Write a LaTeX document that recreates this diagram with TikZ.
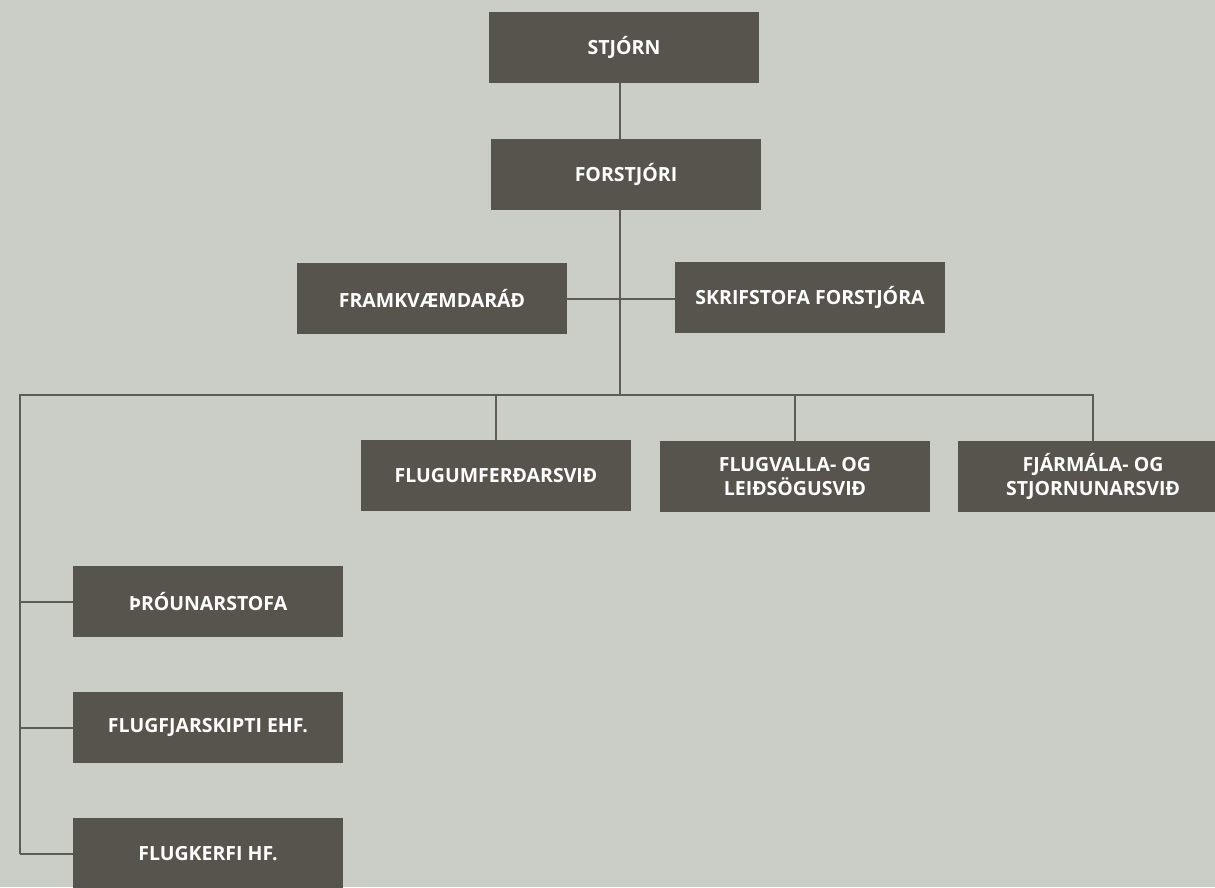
\documentclass[tikz,border=0pt]{standalone}
\usepackage{fontspec}
\setmainfont{Open Sans}
\usepackage{tikz}
\usetikzlibrary{positioning}
\definecolor{bgcol}{HTML}{CBCEC6}
\definecolor{boxcol}{HTML}{57544D}
\definecolor{linecol}{HTML}{5E5B54}
\tikzset{
    orgbox/.style = {
        align=center,
        text centered,
        font=\bfseries\fontsize{19.5}{24}\selectfont,
        text=white,
        rectangle,
        fill=boxcol,
        minimum width=270pt,
        minimum height=71pt,
        inner sep=0pt,
        outer sep=0pt
    },
    orgline/.style = {
        draw=linecol,
        line width=2pt
    }
}
\begin{document}
\begin{tikzpicture}[x=1pt,y=-1pt]
    \fill[bgcol] (0,0) rectangle (1215,887);
    \useasboundingbox (0,0) rectangle (1215,887);
    \begin{scope}
        \clip (0,0) rectangle (1215,887);
        % top of the chart
        \node [orgbox] (stjorn) at (624,47.5) {STJÓRN};
        \node [orgbox] (forstjori) at (626,174.5) {FORSTJÓRI};
        \node [orgbox] (framkv) at (432,298.5) {FRAMKVÆMDARÁÐ};
        \node [orgbox] (skrifst) at (810,297.5) {SKRIFSTOFA FORSTJÓRA};
        % divisions
        \node [orgbox] (flugumf) at (496,475.5) {FLUGUMFERÐARSVIÐ};
        \node [orgbox] (flugvalla) at (795,476.5) {FLUGVALLA- OG\\LEIÐSÖGUSVIÐ};
        \node [orgbox] (fjarmala) at (1093,476.5) {FJÁRMÁLA- OG\\STJORNUNARSVIÐ};
        % left column
        \node [orgbox] (throun) at (208,601.5) {ÞRÓUNARSTOFA};
        \node [orgbox] (flugfjar) at (208,727.5) {FLUGFJARSKIPTI EHF.};
        \node [orgbox] (flugkerfi) at (208,853.5) {FLUGKERFI HF.};
        \coordinate (hub) at (620,297.5);
        \coordinate (bus) at (620,395);
        \coordinate (busleft) at (20,395);
        \coordinate (busright) at (1093,395);
        \coordinate (leftend) at (20,853.5);
    \end{scope}
    % connectors
    \draw [orgline] (stjorn.south -| hub) -- (forstjori.north -| hub);
    \draw [orgline] (forstjori.south -| hub) -- (bus);
    \draw [orgline] (framkv.east) -- (skrifst.west |- framkv.east);
    \draw [orgline] (leftend) -- (busleft) -- (busright) -- (fjarmala.north);
    \draw [orgline] (bus -| flugumf.north) -- (flugumf.north);
    \draw [orgline] (bus -| flugvalla.north) -- (flugvalla.north);
    \draw [orgline] (throun.west -| busleft) -- (throun.west);
    \draw [orgline] (flugfjar.west -| busleft) -- (flugfjar.west);
    \draw [orgline] (leftend) -- (flugkerfi.west);
\end{tikzpicture}
\end{document}
